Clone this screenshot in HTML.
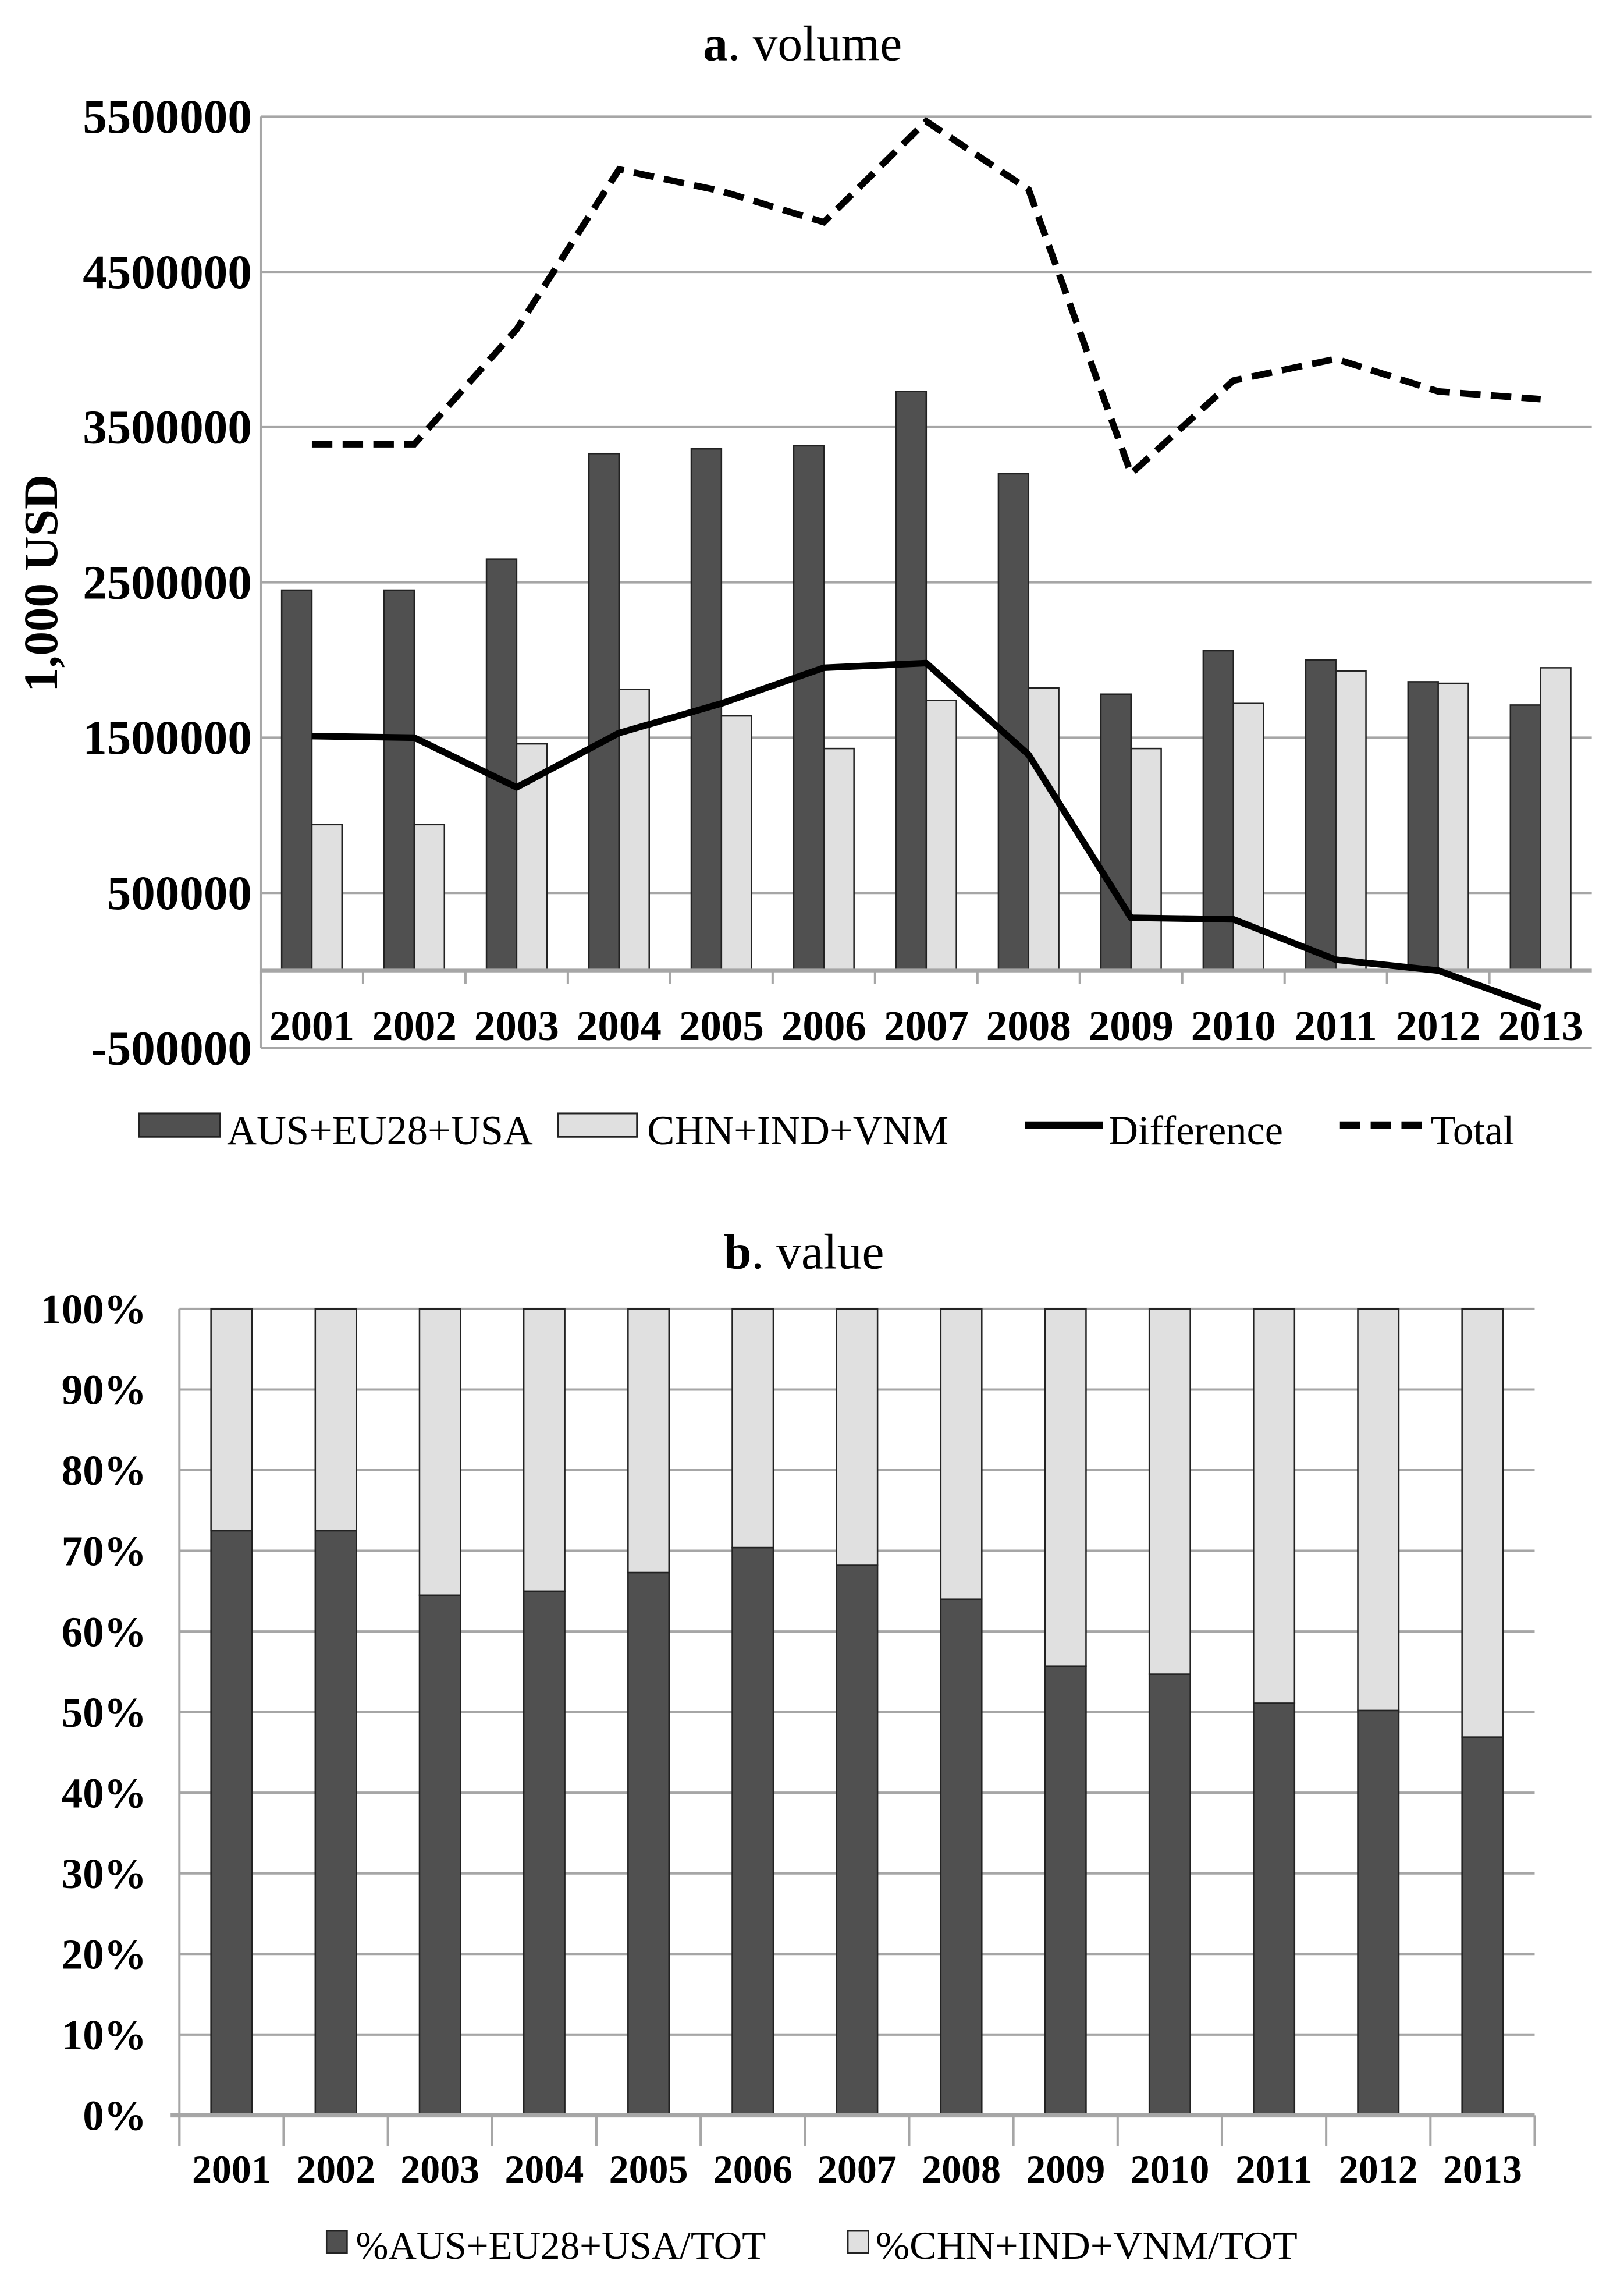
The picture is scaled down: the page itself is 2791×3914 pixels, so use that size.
<!DOCTYPE html>
<html><head><meta charset="utf-8"><style>
html,body{margin:0;padding:0;background:#fff;}
svg{display:block;}
text{font-family:"Liberation Serif",serif;fill:#000;}
.b{font-weight:bold;}
</style></head><body>
<svg id="root" width="2791" height="3914" viewBox="0 0 1109 1555" xmlns="http://www.w3.org/2000/svg">
<g id="chartA"></g>
<g id="chartB"></g>
</svg>
<script>
const years = ["2001","2002","2003","2004","2005","2006","2007","2008","2009","2010","2011","2012","2013"];
const devVolume = [2450000,2450000,2650000,3330000,3360000,3380000,3730000,3200000,1780000,2060000,2000000,1860000,1710000];
const emgVolume = [940000,940000,1460000,1810000,1640000,1430000,1740000,1820000,1430000,1720000,1930000,1850000,1950000];
const diffVolume = [1510000,1500000,1180000,1530000,1720000,1950000,1980000,1390000,340000,330000,70000,0,-240000];
const totalVolume = [3390000,3390000,4130000,5160000,5020000,4820000,5470000,5030000,3200000,3800000,3940000,3730000,3680000];
const yTicksA = [-500000,500000,1500000,2500000,3500000,4500000,5500000];
const devShare = [72.5,72.5,64.5,65,67.3,70.4,68.2,64,55.7,54.7,51.1,50.2,46.9];
const yTicksB = [0,10,20,30,40,50,60,70,80,90,100];

const NS="http://www.w3.org/2000/svg";
function mk(parent,tag,attrs,txt){const e=document.createElementNS(NS,tag);for(const k in attrs)e.setAttribute(k,attrs[k]);if(txt!==undefined)e.textContent=txt;parent.appendChild(e);return e;}

// ---------- Chart A ----------
const A=document.getElementById('chartA');
const aL=178,aR=1087,aZero=662.5,aPerM=106;
const ay=v=>aZero-v/1e6*aPerM;
const aBand=(aR-aL)/years.length;
const ax=i=>aL+aBand*(i+0.5);
let t=mk(A,'text',{x:548,y:41,'text-anchor':'middle','font-size':34});


mk(t,'tspan',{class:'b'},'a');mk(t,'tspan',{},'. volume');
yTicksA.forEach(v=>{
  const g=mk(A,'line',{x1:aL,x2:aR,y1:ay(v),y2:ay(v),stroke:'#a6a6a6','stroke-width':1.6});
  
  
  const l=mk(A,'text',{x:172,y:ay(v)+11,'text-anchor':'end','font-size':33,class:'b'},String(v));
  
  
});
let yt=mk(A,'text',{x:0,y:0,'text-anchor':'middle','font-size':33,class:'b',transform:'translate(39,398) rotate(-90)'},'1,000 USD');


years.forEach((y,i)=>{
  const bw=20.6;
  const d=mk(A,'rect',{x:ax(i)-bw,y:ay(devVolume[i]),width:bw,height:aZero-ay(devVolume[i]),fill:'#505050',stroke:'#222','stroke-width':1});
  
  
  const e=mk(A,'rect',{x:ax(i),y:ay(emgVolume[i]),width:bw,height:aZero-ay(emgVolume[i]),fill:'#e0e0e0',stroke:'#222','stroke-width':1});
  
  
  const tk=mk(A,'line',{x1:aL+aBand*i,x2:aL+aBand*i,y1:aZero,y2:aZero+9,stroke:'#a6a6a6','stroke-width':1.6});
  
  
  const xl=mk(A,'text',{x:ax(i),y:710,'text-anchor':'middle','font-size':29,class:'b'},y);
  
  
});
let za=mk(A,'line',{x1:aL,x2:aR,y1:aZero,y2:aZero,stroke:'#a6a6a6','stroke-width':2.5});


let ya=mk(A,'line',{x1:aL,x2:aL,y1:ay(5500000),y2:ay(-500000),stroke:'#a6a6a6','stroke-width':1.6});


let dl=mk(A,'polyline',{points:diffVolume.map((v,i)=>ax(i)+','+ay(v)).join(' '),fill:'none',stroke:'#000','stroke-width':4.5,'stroke-linejoin':'round'});


let tl=mk(A,'polyline',{points:totalVolume.map((v,i)=>ax(i)+','+ay(v)).join(' '),fill:'none',stroke:'#000','stroke-width':4.5,'stroke-dasharray':'14 7'});


// legend A
let lg=mk(A,'g',{});


let r1=mk(lg,'rect',{x:95,y:760,width:55,height:16,fill:'#505050',stroke:'#222','stroke-width':1.2});

let t1=mk(lg,'text',{x:155,y:781,'font-size':28},'AUS+EU28+USA');

let r2=mk(lg,'rect',{x:381,y:760,width:54,height:16,fill:'#e0e0e0',stroke:'#222','stroke-width':1.2});

let t2=mk(lg,'text',{x:442,y:781,'font-size':28},'CHN+IND+VNM');

let l3=mk(lg,'line',{x1:700,x2:753,y1:768,y2:768,stroke:'#000','stroke-width':5});

let t3=mk(lg,'text',{x:757,y:781,'font-size':28},'Difference');

let l4=mk(lg,'line',{x1:915,x2:972,y1:768,y2:768,stroke:'#000','stroke-width':5,'stroke-dasharray':'14 7'});

let t4=mk(lg,'text',{x:977,y:781,'font-size':28},'Total');


// ---------- Chart B ----------
const B=document.getElementById('chartB');
const bL=122.5,bR=1048,bZero=1444,bTop=893.5;
const by=p=>bZero-(bZero-bTop)*p/100;
const bBand=(bR-bL)/years.length;
const bx=i=>bL+bBand*(i+0.5);
let tb=mk(B,'text',{x:549,y:866,'text-anchor':'middle','font-size':34});


mk(tb,'tspan',{class:'b'},'b');mk(tb,'tspan',{},'. value');
yTicksB.forEach(v=>{
  const g=mk(B,'line',{x1:bL,x2:bR,y1:by(v),y2:by(v),stroke:'#a6a6a6','stroke-width':1.6});
  
  
  const l=mk(B,'text',{x:100,y:by(v)+10,'text-anchor':'end','font-size':29,class:'b'},v+'%');
  
  
});
years.forEach((y,i)=>{
  const bw=28;
  const d=mk(B,'rect',{x:bx(i)-bw/2,y:by(devShare[i]),width:bw,height:bZero-by(devShare[i]),fill:'#505050',stroke:'#222','stroke-width':1});
  
  
  const e=mk(B,'rect',{x:bx(i)-bw/2,y:by(100),width:bw,height:by(devShare[i])-by(100),fill:'#e0e0e0',stroke:'#222','stroke-width':1});
  
  
  const tk=mk(B,'line',{x1:bL+bBand*i,x2:bL+bBand*i,y1:bZero,y2:bZero+21,stroke:'#a6a6a6','stroke-width':1.6});
  
  
  const xl=mk(B,'text',{x:bx(i),y:1490,'text-anchor':'middle','font-size':27,class:'b'},y);
  
  
});
let tkl=mk(B,'line',{x1:bR,x2:bR,y1:bZero,y2:bZero+21,stroke:'#a6a6a6','stroke-width':1.6});

let zb=mk(B,'line',{x1:bL-6,x2:bR,y1:bZero,y2:bZero,stroke:'#a6a6a6','stroke-width':3});

let yb=mk(B,'line',{x1:bL,x2:bL,y1:bTop,y2:bZero+21,stroke:'#a6a6a6','stroke-width':1.6});

let lgb=mk(B,'g',{});

let s1=mk(lgb,'rect',{x:223,y:1523,width:14,height:15,fill:'#505050',stroke:'#222','stroke-width':1});

let u1=mk(lgb,'text',{x:243,y:1542,'font-size':27,textLength:280,lengthAdjust:'spacingAndGlyphs'},'%AUS+EU28+USA/TOT');

let s2=mk(lgb,'rect',{x:579,y:1523,width:14,height:15,fill:'#e0e0e0',stroke:'#222','stroke-width':1});

let u2=mk(lgb,'text',{x:598,y:1542,'font-size':27,textLength:288,lengthAdjust:'spacingAndGlyphs'},'%CHN+IND+VNM/TOT');

</script>
</body></html>
